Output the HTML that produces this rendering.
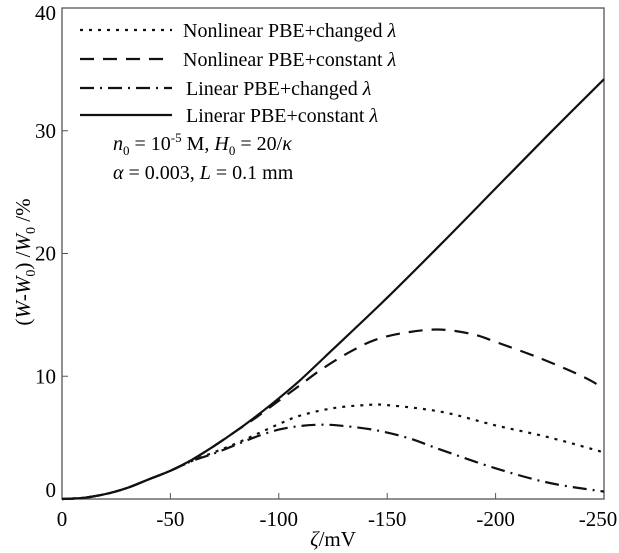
<!DOCTYPE html>
<html><head><meta charset="utf-8"><style>
body{margin:0;background:#fff}
svg{display:block;font-family:"Liberation Serif",serif}
</style></head><body>
<svg id="c" width="619" height="553" viewBox="0 0 619 553"></svg>
<script>
const xs=[0,10,20,30,40,50,60,70,80,90,100,110,125,150,175,200,225,250];
const solidVals=[0,0.1,0.4,0.9,1.6,2.3,3.2,4.3,5.5,6.8,8.2,9.7,12.2,16.4,20.8,25.3,29.8,34.2];
const dashX=[0,10,20,30,40,50,60,70,80,90,100,110,120,133,145,160,175,190,200,220,240,250];
const dashVals=[0,0.1,0.4,0.9,1.6,2.3,3.2,4.3,5.5,6.7,8.0,9.3,10.6,12.0,13.0,13.6,13.8,13.4,12.8,11.5,10.0,9.0];
const dotX=[0,10,20,30,40,50,60,70,80,90,100,110,125,140,150,175,200,225,250];
const dotVals=[0,0.1,0.4,0.9,1.6,2.3,3.1,3.8,4.5,5.3,6.1,6.8,7.4,7.65,7.65,7.1,6.0,5.0,3.8];
const ddX=[0,10,20,30,40,50,60,70,80,90,100,110,120,130,145,160,175,200,225,250];
const ddVals=[0,0.1,0.4,0.9,1.6,2.3,3.1,3.7,4.4,5.1,5.65,5.95,6.05,5.95,5.6,4.95,4.0,2.5,1.3,0.6];
const xTicks=[0,50,100,150,200,250];
const xTickLabels=["0","-50","-100","-150","-200","-250"];
const yTicks=[0,10,20,30,40];
const L=62,R=604,T=8,B=499;
const sx=v=>L+v/250*(R-L), sy=v=>B-v/40*(B-T);
const svg=document.getElementById('c');
const NS='http://www.w3.org/2000/svg';
function mk(t,a,txt){const e=document.createElementNS(NS,t);for(const k in a)e.setAttribute(k,a[k]);if(txt!=null)e.textContent=txt;svg.appendChild(e);return e;}
let fr=mk('rect',{x:L,y:T,width:R-L,height:B-T,fill:'none',stroke:'#555','stroke-width':1.3});


xTicks.forEach((v,i)=>{
 let t=mk('line',{x1:sx(v),x2:sx(v),y1:B,y2:B-6,stroke:'#555'});
 
 
 let lb=mk('text',{x:sx(v)+(i==5?-6:0),y:B+27,'font-size':21,'text-anchor':'middle'},xTickLabels[i]);
 
 
});
yTicks.forEach(v=>{
 let t=mk('line',{x1:L,x2:L+6,y1:sy(v),y2:sy(v),stroke:'#555'});
 
 
 let lb=mk('text',{x:L-6,y:sy(v)+(v==40?12:v==0?-2:7),'font-size':21,'text-anchor':'end'},String(v));
 
 
});
function series(X,V,dash,name){
 const P=X.map((x,i)=>[sx(x),sy(V[i])]);
 let d='M'+P[0][0].toFixed(1)+','+P[0][1].toFixed(1);
 for(let i=0;i<P.length-1;i++){
  const p0=P[Math.max(0,i-1)],p1=P[i],p2=P[i+1],p3=P[Math.min(P.length-1,i+2)];
  const c1=[p1[0]+(p2[0]-p0[0])/6,p1[1]+(p2[1]-p0[1])/6];
  const c2=[p2[0]-(p3[0]-p1[0])/6,p2[1]-(p3[1]-p1[1])/6];
  d+=' C'+c1.map(n=>n.toFixed(1))+' '+c2.map(n=>n.toFixed(1))+' '+p2.map(n=>n.toFixed(1));
 }
 let p=mk('path',{d:d,fill:'none',stroke:'#111','stroke-width':2.2,'stroke-dasharray':dash});
 
 
}
series(dotX,dotVals,'3,6','series-nonlinear-changed');
series(dashX,dashVals,'14,9','series-nonlinear-constant');
series(ddX,ddVals,'14,6,2,6','series-linear-changed');
series(xs,solidVals,'none','series-linear-constant');
const legDash=['3,6','14,9','14,6,2,6','none'];
const legText=['Nonlinear PBE+changed ','Nonlinear PBE+constant ','Linear PBE+changed ','Linerar PBE+constant '];
const legY=[30,59,88,115];
legDash.forEach((ds,i)=>{
 let l=mk('line',{x1:80,x2:172,y1:legY[i],y2:legY[i],stroke:'#111','stroke-width':2.2,'stroke-dasharray':ds});
 
 
 let t=mk('text',{x:[183,183,186,186][i],y:legY[i]+7,'font-size':20});
 
 
 t.innerHTML=legText[i]+'<tspan font-style="italic">λ</tspan>';
});
let a1=mk('text',{x:113,y:150,'font-size':20});


a1.innerHTML='<tspan font-style="italic">n</tspan><tspan font-size="13" dy="5">0</tspan><tspan dy="-5"> = 10</tspan><tspan font-size="13" dy="-8">-5</tspan><tspan dy="8"> M, </tspan><tspan font-style="italic">H</tspan><tspan font-size="13" dy="5">0</tspan><tspan dy="-5"> = 20/</tspan><tspan font-style="italic">κ</tspan>';
let a2=mk('text',{x:113,y:179,'font-size':20});


a2.innerHTML='<tspan font-style="italic">α</tspan> = 0.003, <tspan font-style="italic">L</tspan> = 0.1 mm';
let xt=mk('text',{x:333,y:546,'font-size':21,'text-anchor':'middle'});


xt.innerHTML='<tspan font-style="italic">ζ</tspan>/mV';
let yt=mk('text',{x:0,y:0,'font-size':21,'text-anchor':'middle',transform:'translate(30,262) rotate(-90)'});


yt.innerHTML='(<tspan font-style="italic">W</tspan>-<tspan font-style="italic">W</tspan><tspan font-size="14" dy="5">0</tspan><tspan dy="-5">) /</tspan><tspan font-style="italic">W</tspan><tspan font-size="14" dy="5">0</tspan><tspan dy="-5"> /%</tspan>';
</script>
</body></html>
